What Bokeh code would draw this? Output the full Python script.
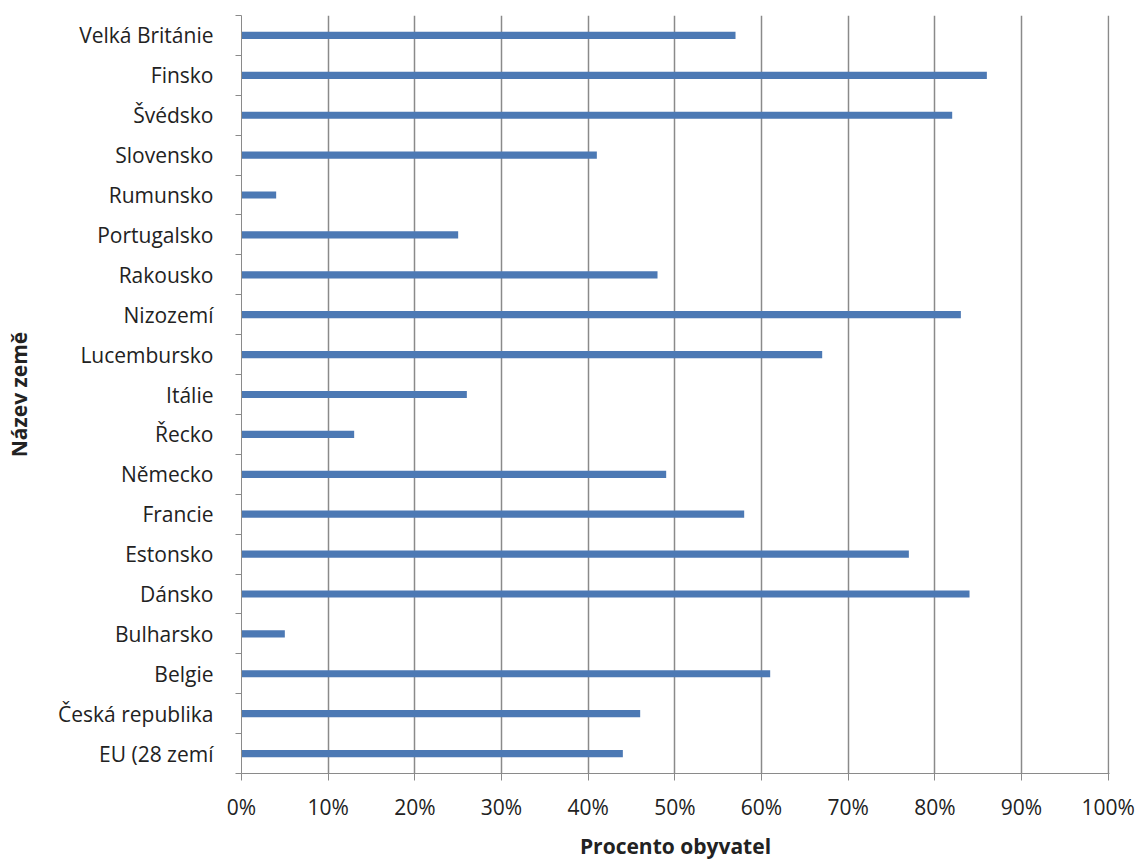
from bokeh.plotting import figure
from bokeh.models import Range1d, FixedTicker, PrintfTickFormatter
from bokeh.embed import file_html
from bokeh.resources import INLINE

# Categories listed bottom to top
countries = ["EU (28 zemí", "Česká republika", "Belgie", "Bulharsko", "Dánsko",
             "Estonsko", "Francie", "Německo", "Řecko", "Itálie", "Lucembursko",
             "Nizozemí", "Rakousko", "Portugalsko", "Rumunsko", "Slovensko",
             "Švédsko", "Finsko", "Velká Británie"]
values = [44, 46, 61, 5, 84, 77, 58, 49, 13, 26, 67, 83, 48, 25, 4, 41, 82, 86, 57]
x_ticks = [0, 10, 20, 30, 40, 50, 60, 70, 80, 90, 100]

idx = list(range(len(countries)))
boundaries = [i - 0.5 for i in range(len(countries) + 1)]

p = figure(width=1142, height=863, output_backend="svg", toolbar_location=None,
           x_range=Range1d(0, 100.15), y_range=Range1d(-0.5, len(countries) - 0.5),
           min_border_left=241, min_border_right=33, min_border_top=15, min_border_bottom=90)
p.outline_line_color = None
p.background_fill_color = "white"
p.border_fill_color = "white"

p.hbar(y=idx, left=0, right=values, height=0.18, color="#4C79B4", line_color=None)

font = "Open Sans"
grey = "#8a8a8a"
txt = "#222222"
fs = "21px"

# x axis
xa = p.xaxis[0]
xa.ticker = FixedTicker(ticks=x_ticks)
xa.formatter = PrintfTickFormatter(format="%d%%")
xa.axis_line_color = grey
xa.major_tick_line_color = grey
xa.major_tick_out = 7
xa.major_tick_in = 0
xa.minor_tick_out = 0
xa.major_label_standoff = 12
xa.major_label_text_font = font
xa.major_label_text_font_size = fs
xa.major_label_text_color = txt
xa.axis_label = "Procento obyvatel"
xa.axis_label_text_font = font
xa.axis_label_text_font_size = fs
xa.axis_label_text_font_style = "bold"
xa.axis_label_text_color = txt
xa.axis_label_standoff = 8

# y axis
ya = p.yaxis[0]
ya.ticker = FixedTicker(ticks=idx, minor_ticks=boundaries)
ya.major_label_overrides = {i: c for i, c in zip(idx, countries)}
ya.axis_line_color = grey
ya.major_tick_out = 0
ya.major_tick_in = 0
ya.minor_tick_out = 6
ya.minor_tick_in = 0
ya.minor_tick_line_color = grey
ya.major_label_standoff = 22
ya.major_label_text_font = font
ya.major_label_text_font_size = fs
ya.major_label_text_color = txt
ya.axis_label = "Název země"
ya.axis_label_text_font = font
ya.axis_label_text_font_size = fs
ya.axis_label_text_font_style = "bold"
ya.axis_label_text_color = txt
ya.axis_label_standoff = 22

p.xgrid.ticker = FixedTicker(ticks=x_ticks[1:])
p.xgrid.grid_line_color = grey
p.xgrid.grid_line_width = 1.5
p.ygrid.grid_line_color = None

open("out.html", "w").write(file_html(p, INLINE))
